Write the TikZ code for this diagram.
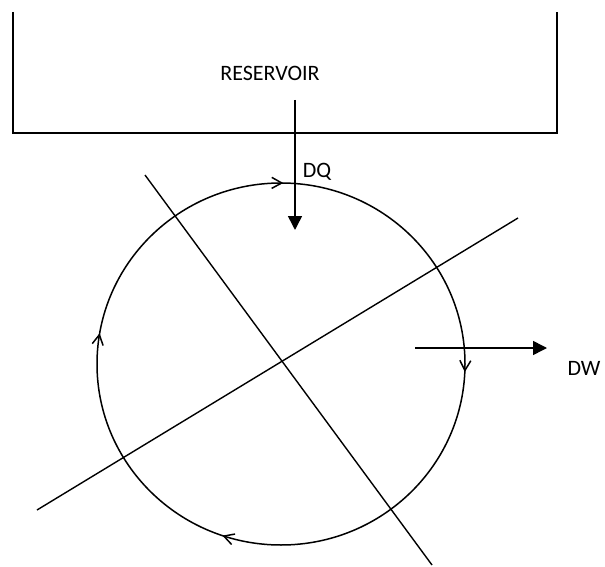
\documentclass[tikz,border=0pt]{standalone}
\usepackage{fontspec}
\setmainfont{Carlito}
\usetikzlibrary{arrows.meta,decorations.markings}
\tikzset{
  wall/.style={line width=1.5pt},
  axis/.style={line width=1.4pt},
  flow/.style={-{Triangle[length=14pt,width=14pt]}, line width=1.5pt},
  lbl/.style={font=\fontsize{22}{26}\selectfont, inner sep=1pt},
  % open barbs that give the sense of the cycle
  cyc/.style={line width=1.5pt, postaction={decorate}, decoration={markings,
      mark=at position 0.007 with {\arrow{Straight Barb[length=10pt,width=11pt]}},
      mark=at position 0.302 with {\arrow{Straight Barb[length=10pt,width=11pt]}},
      mark=at position 0.527 with {\arrow{Straight Barb[length=10pt,width=11pt]}},
      mark=at position 0.752 with {\arrow{Straight Barb[length=10pt,width=11pt]}}}},
}

\begin{document}
\begin{tikzpicture}[x=1pt, y=-1pt]
\useasboundingbox (0,0) rectangle (605,567);

% reservoir, open at the top
\draw[wall] (13,12) -- (13,133) -- (557,133) -- (557,12);
\node[lbl] (res) at (270,73) {RESERVOIR};

% the cycle and its two axes
\coordinate (ctr) at (281,364);
\draw[cyc] (ctr) ellipse [x radius=184, y radius=181];
\coordinate (a1) at (145,175);
\coordinate (a2) at (432,565);
\coordinate (b1) at (37,510);
\coordinate (b2) at (518,218);
\draw[axis] (a1) -- (a2);
\draw[axis] (b1) -- (b2);

% heat in, work out
\coordinate (qin) at (295,100);
\coordinate (qout) at (295,230);
\draw[flow] (qin) -- (qout);
\node[lbl] (dq) at (317,172) {DQ};

\coordinate (win) at (415,348);
\coordinate (wout) at (547,348);
\draw[flow] (win) -- (wout);
\node[lbl] (dw) at (584,368) {DW};

\end{tikzpicture}
\end{document}
